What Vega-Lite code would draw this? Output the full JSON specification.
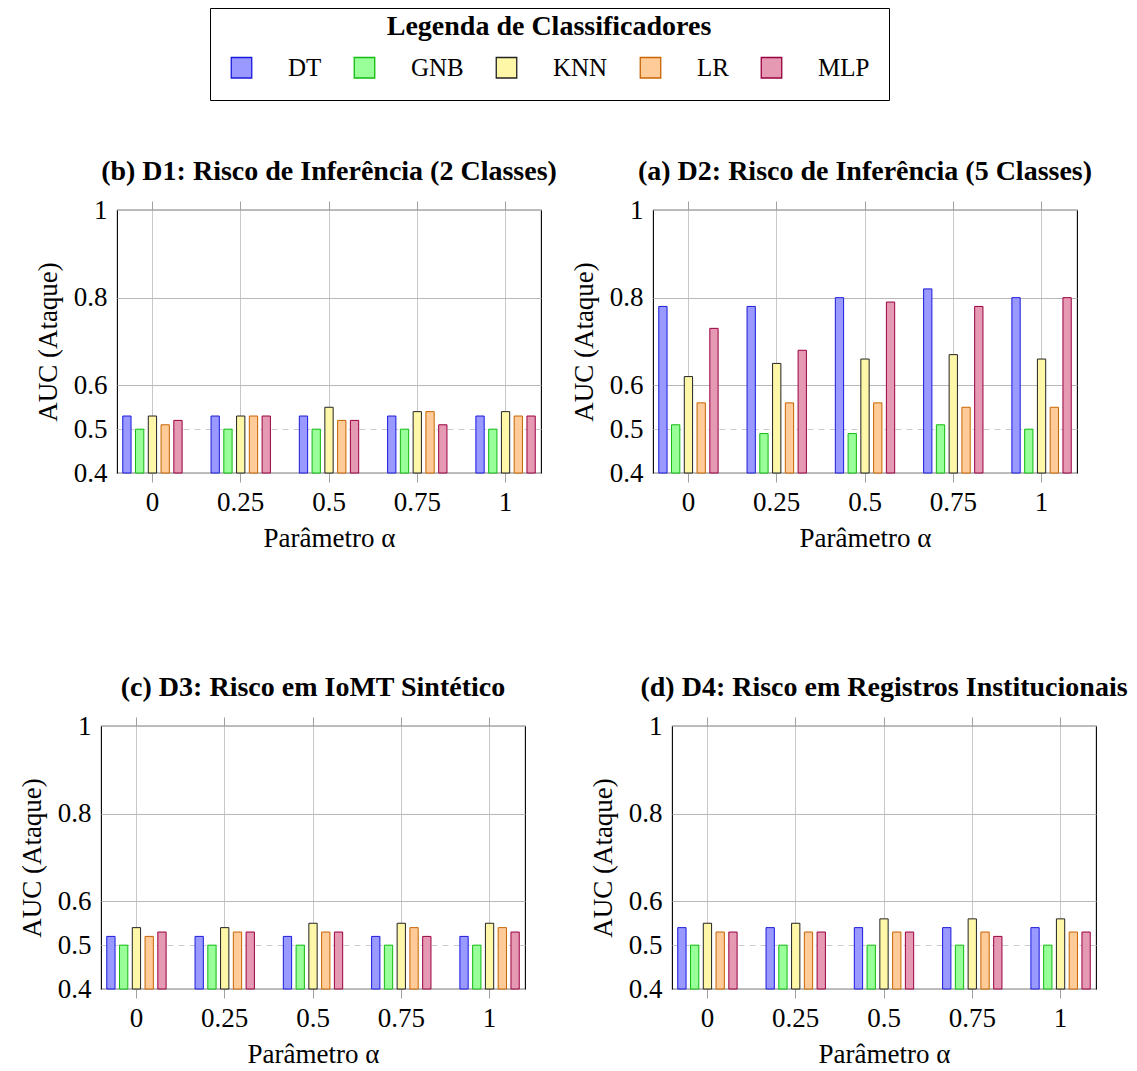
{
  "$schema": "https://vega.github.io/schema/vega-lite/v6.json",
  "padding": {"left": 17, "top": 7, "right": 0, "bottom": 5},
  "background": "white",
  "datasets": {
    "auc": [
      {"panel": "D1", "alpha": "0", "clf": "DT", "auc": 0.53},
      {"panel": "D1", "alpha": "0", "clf": "GNB", "auc": 0.50},
      {"panel": "D1", "alpha": "0", "clf": "KNN", "auc": 0.53},
      {"panel": "D1", "alpha": "0", "clf": "LR", "auc": 0.51},
      {"panel": "D1", "alpha": "0", "clf": "MLP", "auc": 0.52},
      {"panel": "D1", "alpha": "0.25", "clf": "DT", "auc": 0.53},
      {"panel": "D1", "alpha": "0.25", "clf": "GNB", "auc": 0.50},
      {"panel": "D1", "alpha": "0.25", "clf": "KNN", "auc": 0.53},
      {"panel": "D1", "alpha": "0.25", "clf": "LR", "auc": 0.53},
      {"panel": "D1", "alpha": "0.25", "clf": "MLP", "auc": 0.53},
      {"panel": "D1", "alpha": "0.5", "clf": "DT", "auc": 0.53},
      {"panel": "D1", "alpha": "0.5", "clf": "GNB", "auc": 0.50},
      {"panel": "D1", "alpha": "0.5", "clf": "KNN", "auc": 0.55},
      {"panel": "D1", "alpha": "0.5", "clf": "LR", "auc": 0.52},
      {"panel": "D1", "alpha": "0.5", "clf": "MLP", "auc": 0.52},
      {"panel": "D1", "alpha": "0.75", "clf": "DT", "auc": 0.53},
      {"panel": "D1", "alpha": "0.75", "clf": "GNB", "auc": 0.50},
      {"panel": "D1", "alpha": "0.75", "clf": "KNN", "auc": 0.54},
      {"panel": "D1", "alpha": "0.75", "clf": "LR", "auc": 0.54},
      {"panel": "D1", "alpha": "0.75", "clf": "MLP", "auc": 0.51},
      {"panel": "D1", "alpha": "1", "clf": "DT", "auc": 0.53},
      {"panel": "D1", "alpha": "1", "clf": "GNB", "auc": 0.50},
      {"panel": "D1", "alpha": "1", "clf": "KNN", "auc": 0.54},
      {"panel": "D1", "alpha": "1", "clf": "LR", "auc": 0.53},
      {"panel": "D1", "alpha": "1", "clf": "MLP", "auc": 0.53},

      {"panel": "D2", "alpha": "0", "clf": "DT", "auc": 0.78},
      {"panel": "D2", "alpha": "0", "clf": "GNB", "auc": 0.51},
      {"panel": "D2", "alpha": "0", "clf": "KNN", "auc": 0.62},
      {"panel": "D2", "alpha": "0", "clf": "LR", "auc": 0.56},
      {"panel": "D2", "alpha": "0", "clf": "MLP", "auc": 0.73},
      {"panel": "D2", "alpha": "0.25", "clf": "DT", "auc": 0.78},
      {"panel": "D2", "alpha": "0.25", "clf": "GNB", "auc": 0.49},
      {"panel": "D2", "alpha": "0.25", "clf": "KNN", "auc": 0.65},
      {"panel": "D2", "alpha": "0.25", "clf": "LR", "auc": 0.56},
      {"panel": "D2", "alpha": "0.25", "clf": "MLP", "auc": 0.68},
      {"panel": "D2", "alpha": "0.5", "clf": "DT", "auc": 0.80},
      {"panel": "D2", "alpha": "0.5", "clf": "GNB", "auc": 0.49},
      {"panel": "D2", "alpha": "0.5", "clf": "KNN", "auc": 0.66},
      {"panel": "D2", "alpha": "0.5", "clf": "LR", "auc": 0.56},
      {"panel": "D2", "alpha": "0.5", "clf": "MLP", "auc": 0.79},
      {"panel": "D2", "alpha": "0.75", "clf": "DT", "auc": 0.82},
      {"panel": "D2", "alpha": "0.75", "clf": "GNB", "auc": 0.51},
      {"panel": "D2", "alpha": "0.75", "clf": "KNN", "auc": 0.67},
      {"panel": "D2", "alpha": "0.75", "clf": "LR", "auc": 0.55},
      {"panel": "D2", "alpha": "0.75", "clf": "MLP", "auc": 0.78},
      {"panel": "D2", "alpha": "1", "clf": "DT", "auc": 0.80},
      {"panel": "D2", "alpha": "1", "clf": "GNB", "auc": 0.50},
      {"panel": "D2", "alpha": "1", "clf": "KNN", "auc": 0.66},
      {"panel": "D2", "alpha": "1", "clf": "LR", "auc": 0.55},
      {"panel": "D2", "alpha": "1", "clf": "MLP", "auc": 0.80},

      {"panel": "D3", "alpha": "0", "clf": "DT", "auc": 0.52},
      {"panel": "D3", "alpha": "0", "clf": "GNB", "auc": 0.50},
      {"panel": "D3", "alpha": "0", "clf": "KNN", "auc": 0.54},
      {"panel": "D3", "alpha": "0", "clf": "LR", "auc": 0.52},
      {"panel": "D3", "alpha": "0", "clf": "MLP", "auc": 0.53},
      {"panel": "D3", "alpha": "0.25", "clf": "DT", "auc": 0.52},
      {"panel": "D3", "alpha": "0.25", "clf": "GNB", "auc": 0.50},
      {"panel": "D3", "alpha": "0.25", "clf": "KNN", "auc": 0.54},
      {"panel": "D3", "alpha": "0.25", "clf": "LR", "auc": 0.53},
      {"panel": "D3", "alpha": "0.25", "clf": "MLP", "auc": 0.53},
      {"panel": "D3", "alpha": "0.5", "clf": "DT", "auc": 0.52},
      {"panel": "D3", "alpha": "0.5", "clf": "GNB", "auc": 0.50},
      {"panel": "D3", "alpha": "0.5", "clf": "KNN", "auc": 0.55},
      {"panel": "D3", "alpha": "0.5", "clf": "LR", "auc": 0.53},
      {"panel": "D3", "alpha": "0.5", "clf": "MLP", "auc": 0.53},
      {"panel": "D3", "alpha": "0.75", "clf": "DT", "auc": 0.52},
      {"panel": "D3", "alpha": "0.75", "clf": "GNB", "auc": 0.50},
      {"panel": "D3", "alpha": "0.75", "clf": "KNN", "auc": 0.55},
      {"panel": "D3", "alpha": "0.75", "clf": "LR", "auc": 0.54},
      {"panel": "D3", "alpha": "0.75", "clf": "MLP", "auc": 0.52},
      {"panel": "D3", "alpha": "1", "clf": "DT", "auc": 0.52},
      {"panel": "D3", "alpha": "1", "clf": "GNB", "auc": 0.50},
      {"panel": "D3", "alpha": "1", "clf": "KNN", "auc": 0.55},
      {"panel": "D3", "alpha": "1", "clf": "LR", "auc": 0.54},
      {"panel": "D3", "alpha": "1", "clf": "MLP", "auc": 0.53},

      {"panel": "D4", "alpha": "0", "clf": "DT", "auc": 0.54},
      {"panel": "D4", "alpha": "0", "clf": "GNB", "auc": 0.50},
      {"panel": "D4", "alpha": "0", "clf": "KNN", "auc": 0.55},
      {"panel": "D4", "alpha": "0", "clf": "LR", "auc": 0.53},
      {"panel": "D4", "alpha": "0", "clf": "MLP", "auc": 0.53},
      {"panel": "D4", "alpha": "0.25", "clf": "DT", "auc": 0.54},
      {"panel": "D4", "alpha": "0.25", "clf": "GNB", "auc": 0.50},
      {"panel": "D4", "alpha": "0.25", "clf": "KNN", "auc": 0.55},
      {"panel": "D4", "alpha": "0.25", "clf": "LR", "auc": 0.53},
      {"panel": "D4", "alpha": "0.25", "clf": "MLP", "auc": 0.53},
      {"panel": "D4", "alpha": "0.5", "clf": "DT", "auc": 0.54},
      {"panel": "D4", "alpha": "0.5", "clf": "GNB", "auc": 0.50},
      {"panel": "D4", "alpha": "0.5", "clf": "KNN", "auc": 0.56},
      {"panel": "D4", "alpha": "0.5", "clf": "LR", "auc": 0.53},
      {"panel": "D4", "alpha": "0.5", "clf": "MLP", "auc": 0.53},
      {"panel": "D4", "alpha": "0.75", "clf": "DT", "auc": 0.54},
      {"panel": "D4", "alpha": "0.75", "clf": "GNB", "auc": 0.50},
      {"panel": "D4", "alpha": "0.75", "clf": "KNN", "auc": 0.56},
      {"panel": "D4", "alpha": "0.75", "clf": "LR", "auc": 0.53},
      {"panel": "D4", "alpha": "0.75", "clf": "MLP", "auc": 0.52},
      {"panel": "D4", "alpha": "1", "clf": "DT", "auc": 0.54},
      {"panel": "D4", "alpha": "1", "clf": "GNB", "auc": 0.50},
      {"panel": "D4", "alpha": "1", "clf": "KNN", "auc": 0.56},
      {"panel": "D4", "alpha": "1", "clf": "LR", "auc": 0.53},
      {"panel": "D4", "alpha": "1", "clf": "MLP", "auc": 0.53}
    ]
  },
  "config": {
    "font": "Liberation Serif",
    "view": {"stroke": "black", "strokeWidth": 1.1},
    "style": {"guide-label": {"font": "Liberation Serif"}, "guide-title": {"font": "Liberation Serif"}, "group-title": {"font": "Liberation Serif"}},
    "title": {"font": "Liberation Serif", "fontSize": 28, "fontWeight": "bold", "color": "black", "offset": 10, "frame": "group", "anchor": "middle"},
    "axis": {"labelFont": "Liberation Serif", "titleFont": "Liberation Serif", "labelFontSize": 27, "titleFontSize": 27, "titleFontWeight": "normal", "labelColor": "black", "titleColor": "black", "domain": false},
    "legend": {"labelFont": "Liberation Serif", "titleFont": "Liberation Serif"}
  },
  "vconcat": [
    {
      "spacing": 552,
      "bounds": "flush",
      "hconcat": [
        {
          "spacing": 15,
          "bounds": "flush",
          "hconcat": [
            {
              "width": 1, "height": 1,
              "view": {"stroke": null},
              "data": {"values": [{"s": 1}]},
              "mark": {"type": "point", "opacity": 0},
              "encoding": {}
            },
            {
              "title": "(b) D1: Risco de Inferência (2 Classes)",
              "width": 424, "height": 263,
              "data": {"name": "auc"},
              "transform": [{"filter": "datum.panel === 'D1'"}],
              "layer": [
                {
                  "mark": {"type": "bar", "strokeWidth": 1},
                  "encoding": {
                    "x": {"field": "alpha", "type": "ordinal", "sort": ["0", "0.25", "0.5", "0.75", "1"], "scale": {"paddingInner": 0.277, "paddingOuter": 0.04},
                      "axis": {"title": "Parâmetro α", "labelFont": "Liberation Serif", "titleFont": "Liberation Serif", "labelAngle": 0, "grid": true, "gridColor": "#c8c8c8", "bandPosition": 0.5, "ticks": true, "tickSize": 9, "tickColor": "#a0a0a0", "labelPadding": 7, "titlePadding": 10}},
                    "xOffset": {"field": "clf", "type": "nominal", "sort": ["DT", "GNB", "KNN", "LR", "MLP"], "scale": {"paddingInner": 0.35, "paddingOuter": 0.175}},
                    "y": {"field": "auc", "type": "quantitative", "scale": {"domain": [0.4, 1], "zero": false, "nice": false},
                      "axis": {"title": "AUC (Ataque)", "labelFont": "Liberation Serif", "titleFont": "Liberation Serif", "values": [0.4, 0.5, 0.6, 0.8, 1], "labelExpr": "toString(datum.value)", "grid": true,
                        "gridColor": {"condition": {"test": "datum.value === 0.5", "value": "#cccccc"}, "value": "#b8b8b8"},
                        "gridDash": {"condition": {"test": "datum.value === 0.5", "value": [6, 5]}, "value": []},
                        "ticks": false, "tickSize": 0, "labelPadding": 10, "titlePadding": 11}},
                    "y2": {"datum": 0.4},
                    "fill": {"field": "clf", "type": "nominal",
                      "scale": {"domain": ["DT", "GNB", "KNN", "LR", "MLP"], "range": ["#9999ff", "#99ff99", "#fff7a8", "#ffcc99", "#e599b3"]},
                      "legend": {"orient": "none", "legendX": 109, "legendY": -202, "direction": "horizontal", "columns": 5,
                        "title": "Legenda de Classificadores", "titleFont": "Liberation Serif", "titleFontSize": 28, "titleFontWeight": "bold", "titleColor": "black", "titleAnchor": "middle", "titlePadding": 0, "titleLimit": 900, "titleBaseline": "middle",
                        "labelFont": "Liberation Serif", "labelFontSize": 25, "labelColor": "black", "labelOffset": 34, "columnPadding": 29, "labelLimit": 300,
                        "symbolType": "square", "symbolSize": 420, "symbolStrokeWidth": 1.3, "symbolOpacity": 1,
                        "padding": 19, "strokeColor": "black", "fillColor": "white"}},
                    "stroke": {"field": "clf", "type": "nominal",
                      "scale": {"domain": ["DT", "GNB", "KNN", "LR", "MLP"], "range": ["#1a1add", "#11bb11", "#222222", "#c86400", "#99003f"]}, "legend": null}
                  }
                },
                {
                  "mark": {"type": "rule", "opacity": 0},
                  "encoding": {
                    "x": {"field": "alpha", "type": "ordinal", "sort": ["0", "0.25", "0.5", "0.75", "1"],
                      "axis": {"orient": "top", "labels": false, "title": null, "grid": false, "ticks": true, "tickSize": 9, "tickColor": "#a0a0a0", "bandPosition": 0.5}}
                  }
                }
              ],
              "resolve": {"axis": {"x": "independent"}}
            }
          ]
        },
        {
          "title": "(a) D2: Risco de Inferência (5 Classes)",
          "width": 424, "height": 263,
          "data": {"name": "auc"},
          "transform": [{"filter": "datum.panel === 'D2'"}],
          "layer": [
            {
              "mark": {"type": "bar", "strokeWidth": 1},
              "encoding": {
                "x": {"field": "alpha", "type": "ordinal", "sort": ["0", "0.25", "0.5", "0.75", "1"], "scale": {"paddingInner": 0.277, "paddingOuter": 0.04},
                  "axis": {"title": "Parâmetro α", "labelFont": "Liberation Serif", "titleFont": "Liberation Serif", "labelAngle": 0, "grid": true, "gridColor": "#c8c8c8", "bandPosition": 0.5, "ticks": true, "tickSize": 9, "tickColor": "#a0a0a0", "labelPadding": 7, "titlePadding": 10}},
                "xOffset": {"field": "clf", "type": "nominal", "sort": ["DT", "GNB", "KNN", "LR", "MLP"], "scale": {"paddingInner": 0.35, "paddingOuter": 0.175}},
                "y": {"field": "auc", "type": "quantitative", "scale": {"domain": [0.4, 1], "zero": false, "nice": false},
                  "axis": {"title": "AUC (Ataque)", "labelFont": "Liberation Serif", "titleFont": "Liberation Serif", "values": [0.4, 0.5, 0.6, 0.8, 1], "labelExpr": "toString(datum.value)", "grid": true,
                    "gridColor": {"condition": {"test": "datum.value === 0.5", "value": "#cccccc"}, "value": "#b8b8b8"},
                    "gridDash": {"condition": {"test": "datum.value === 0.5", "value": [6, 5]}, "value": []},
                    "ticks": false, "tickSize": 0, "labelPadding": 10, "titlePadding": 11}},
                "y2": {"datum": 0.4},
                "fill": {"field": "clf", "type": "nominal",
                  "scale": {"domain": ["DT", "GNB", "KNN", "LR", "MLP"], "range": ["#9999ff", "#99ff99", "#fff7a8", "#ffcc99", "#e599b3"]}},
                "stroke": {"field": "clf", "type": "nominal",
                  "scale": {"domain": ["DT", "GNB", "KNN", "LR", "MLP"], "range": ["#1a1add", "#11bb11", "#222222", "#c86400", "#99003f"]}, "legend": null}
              }
            },
            {
              "mark": {"type": "rule", "opacity": 0},
              "encoding": {
                "x": {"field": "alpha", "type": "ordinal", "sort": ["0", "0.25", "0.5", "0.75", "1"],
                  "axis": {"orient": "top", "labels": false, "title": null, "grid": false, "ticks": true, "tickSize": 9, "tickColor": "#a0a0a0", "bandPosition": 0.5}}
              }
            }
          ],
          "resolve": {"axis": {"x": "independent"}}
        }
      ]
    },
    {
      "spacing": 147,
      "bounds": "flush",
      "hconcat": [
        {
          "title": "(c) D3: Risco em IoMT Sintético",
          "width": 424, "height": 263,
          "data": {"name": "auc"},
          "transform": [{"filter": "datum.panel === 'D3'"}],
          "layer": [
            {
              "mark": {"type": "bar", "strokeWidth": 1},
              "encoding": {
                "x": {"field": "alpha", "type": "ordinal", "sort": ["0", "0.25", "0.5", "0.75", "1"], "scale": {"paddingInner": 0.277, "paddingOuter": 0.04},
                  "axis": {"title": "Parâmetro α", "labelFont": "Liberation Serif", "titleFont": "Liberation Serif", "labelAngle": 0, "grid": true, "gridColor": "#c8c8c8", "bandPosition": 0.5, "ticks": true, "tickSize": 9, "tickColor": "#a0a0a0", "labelPadding": 7, "titlePadding": 10}},
                "xOffset": {"field": "clf", "type": "nominal", "sort": ["DT", "GNB", "KNN", "LR", "MLP"], "scale": {"paddingInner": 0.35, "paddingOuter": 0.175}},
                "y": {"field": "auc", "type": "quantitative", "scale": {"domain": [0.4, 1], "zero": false, "nice": false},
                  "axis": {"title": "AUC (Ataque)", "labelFont": "Liberation Serif", "titleFont": "Liberation Serif", "values": [0.4, 0.5, 0.6, 0.8, 1], "labelExpr": "toString(datum.value)", "grid": true,
                    "gridColor": {"condition": {"test": "datum.value === 0.5", "value": "#cccccc"}, "value": "#b8b8b8"},
                    "gridDash": {"condition": {"test": "datum.value === 0.5", "value": [6, 5]}, "value": []},
                    "ticks": false, "tickSize": 0, "labelPadding": 10, "titlePadding": 11}},
                "y2": {"datum": 0.4},
                "fill": {"field": "clf", "type": "nominal",
                  "scale": {"domain": ["DT", "GNB", "KNN", "LR", "MLP"], "range": ["#9999ff", "#99ff99", "#fff7a8", "#ffcc99", "#e599b3"]}},
                "stroke": {"field": "clf", "type": "nominal",
                  "scale": {"domain": ["DT", "GNB", "KNN", "LR", "MLP"], "range": ["#1a1add", "#11bb11", "#222222", "#c86400", "#99003f"]}, "legend": null}
              }
            },
            {
              "mark": {"type": "rule", "opacity": 0},
              "encoding": {
                "x": {"field": "alpha", "type": "ordinal", "sort": ["0", "0.25", "0.5", "0.75", "1"],
                  "axis": {"orient": "top", "labels": false, "title": null, "grid": false, "ticks": true, "tickSize": 9, "tickColor": "#a0a0a0", "bandPosition": 0.5}}
              }
            }
          ],
          "resolve": {"axis": {"x": "independent"}}
        },
        {
          "title": "(d) D4: Risco em Registros Institucionais",
          "width": 424, "height": 263,
          "data": {"name": "auc"},
          "transform": [{"filter": "datum.panel === 'D4'"}],
          "layer": [
            {
              "mark": {"type": "bar", "strokeWidth": 1},
              "encoding": {
                "x": {"field": "alpha", "type": "ordinal", "sort": ["0", "0.25", "0.5", "0.75", "1"], "scale": {"paddingInner": 0.277, "paddingOuter": 0.04},
                  "axis": {"title": "Parâmetro α", "labelFont": "Liberation Serif", "titleFont": "Liberation Serif", "labelAngle": 0, "grid": true, "gridColor": "#c8c8c8", "bandPosition": 0.5, "ticks": true, "tickSize": 9, "tickColor": "#a0a0a0", "labelPadding": 7, "titlePadding": 10}},
                "xOffset": {"field": "clf", "type": "nominal", "sort": ["DT", "GNB", "KNN", "LR", "MLP"], "scale": {"paddingInner": 0.35, "paddingOuter": 0.175}},
                "y": {"field": "auc", "type": "quantitative", "scale": {"domain": [0.4, 1], "zero": false, "nice": false},
                  "axis": {"title": "AUC (Ataque)", "labelFont": "Liberation Serif", "titleFont": "Liberation Serif", "values": [0.4, 0.5, 0.6, 0.8, 1], "labelExpr": "toString(datum.value)", "grid": true,
                    "gridColor": {"condition": {"test": "datum.value === 0.5", "value": "#cccccc"}, "value": "#b8b8b8"},
                    "gridDash": {"condition": {"test": "datum.value === 0.5", "value": [6, 5]}, "value": []},
                    "ticks": false, "tickSize": 0, "labelPadding": 10, "titlePadding": 11}},
                "y2": {"datum": 0.4},
                "fill": {"field": "clf", "type": "nominal",
                  "scale": {"domain": ["DT", "GNB", "KNN", "LR", "MLP"], "range": ["#9999ff", "#99ff99", "#fff7a8", "#ffcc99", "#e599b3"]}},
                "stroke": {"field": "clf", "type": "nominal",
                  "scale": {"domain": ["DT", "GNB", "KNN", "LR", "MLP"], "range": ["#1a1add", "#11bb11", "#222222", "#c86400", "#99003f"]}, "legend": null}
              }
            },
            {
              "mark": {"type": "rule", "opacity": 0},
              "encoding": {
                "x": {"field": "alpha", "type": "ordinal", "sort": ["0", "0.25", "0.5", "0.75", "1"],
                  "axis": {"orient": "top", "labels": false, "title": null, "grid": false, "ticks": true, "tickSize": 9, "tickColor": "#a0a0a0", "bandPosition": 0.5}}
              }
            }
          ],
          "resolve": {"axis": {"x": "independent"}}
        }
      ]
    }
  ],
  "spacing": 516,
  "bounds": "flush"
}
